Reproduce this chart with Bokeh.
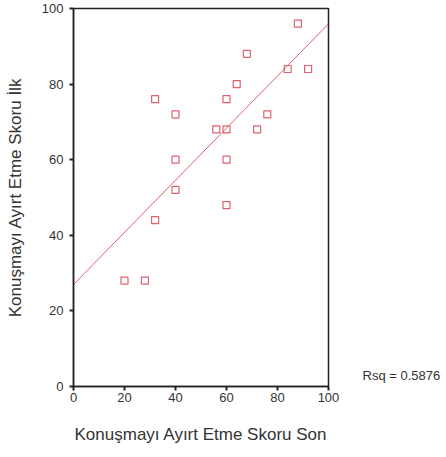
from bokeh.plotting import figure
from bokeh.models import Range1d, FixedTicker, LinearAxis
from bokeh.embed import file_html
from bokeh.resources import INLINE
import numpy as np

son = [20, 28, 32, 40, 40, 40, 32, 56, 60, 60, 60, 60, 64, 68, 72, 76, 84, 92, 88]
ilk = [28, 28, 44, 52, 60, 72, 76, 68, 68, 60, 48, 76, 80, 88, 68, 72, 84, 84, 96]
x_ticks = [0, 20, 40, 60, 80, 100]
y_ticks = [0, 20, 40, 60, 80, 100]
rsq_text = "Rsq = 0.5876"
x_title = "Konuşmayı Ayırt Etme Skoru Son"
y_title = "Konuşmayı Ayırt Etme Skoru İlk"

FONT = "Liberation Sans"
RED = "#e0606e"

p = figure(width=446, height=457, output_backend="svg", toolbar_location=None,
           x_range=Range1d(0, 100), y_range=Range1d(0, 100),
           min_border_left=73, min_border_right=118, min_border_top=8, min_border_bottom=71)
p.xgrid.visible = False
p.ygrid.visible = False
p.outline_line_color = "#222222"
p.outline_line_width = 1.5
p.background_fill_color = "white"
p.border_fill_color = "white"

# regression line
b, a = np.polyfit(son, ilk, 1)
xs = [0, 100]
p.line(xs, [a + b * v for v in xs], line_color=RED, line_width=1)

p.scatter(son, ilk, marker="square", size=7, fill_color=None, line_color=RED, line_width=1.2)

for ax in (p.xaxis, p.yaxis):
    ax.axis_line_color = "#222222"
    ax.axis_line_width = 1.5
    ax.major_tick_line_color = "#222222"
    ax.major_tick_line_width = 2
    ax.major_tick_out = 4
    ax.major_tick_in = 0
    ax.minor_tick_line_color = None
    ax.major_label_text_font = FONT
    ax.major_label_text_font_size = "13px"
    ax.major_label_text_color = "#333333"
    ax.axis_label_text_font = FONT
    ax.axis_label_text_font_size = "17px"
    ax.axis_label_text_font_style = "normal"
    ax.axis_label_text_color = "#333333"

p.xaxis.ticker = FixedTicker(ticks=x_ticks)
p.yaxis.ticker = FixedTicker(ticks=y_ticks)
p.xaxis.axis_label = x_title
p.yaxis.axis_label = y_title
p.xaxis.major_label_standoff = 2
p.yaxis.major_label_standoff = 6
p.xaxis.axis_label_standoff = 20
p.yaxis.axis_label_standoff = 14

# Rsq annotation as a label-only axis on the right
rsq_axis = LinearAxis(ticker=FixedTicker(ticks=[3]), major_label_overrides={3: rsq_text},
                      axis_line_color=None, major_tick_line_color=None, minor_tick_line_color=None,
                      major_tick_out=0, major_tick_in=0,
                      major_label_standoff=34, major_label_text_font=FONT,
                      major_label_text_font_size="13px", major_label_text_color="#333333")
p.add_layout(rsq_axis, "right")

open("out.html", "w").write(file_html(p, INLINE))
